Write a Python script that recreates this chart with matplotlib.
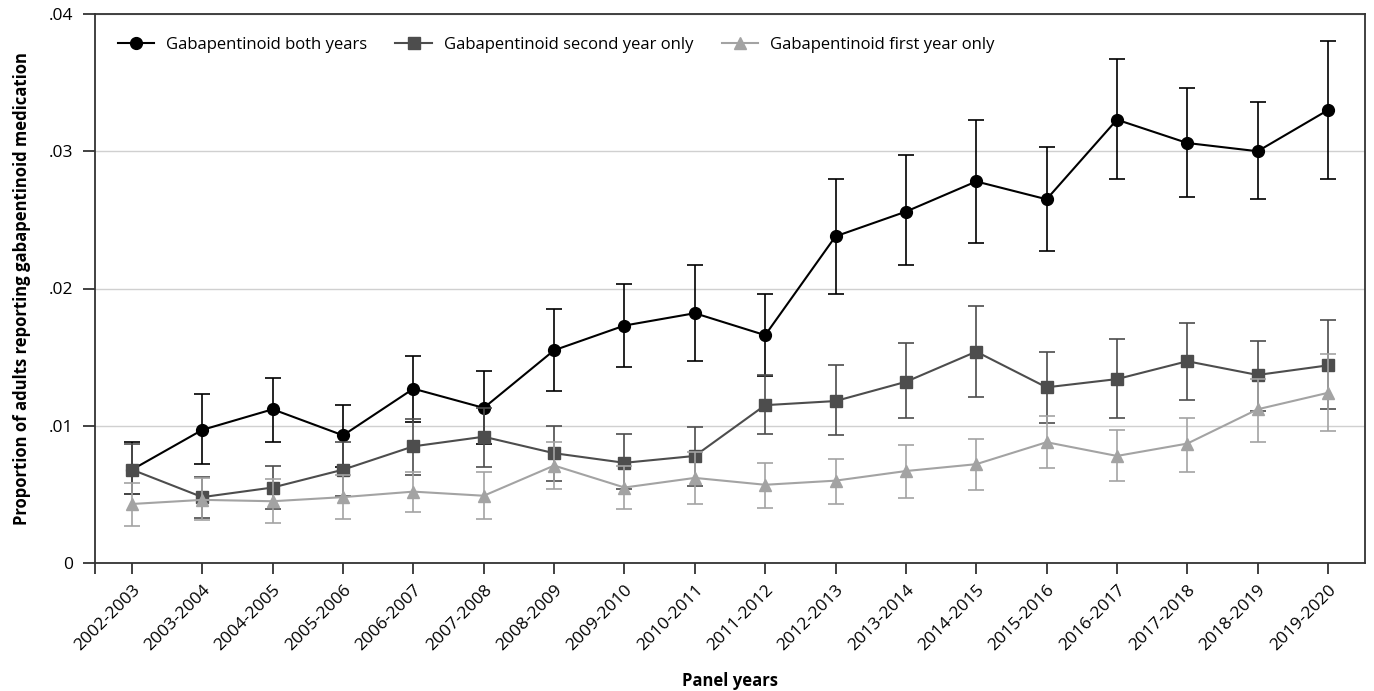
import matplotlib
matplotlib.use("Agg")
from matplotlib import pyplot as plt
from matplotlib.ticker import FixedLocator
import numpy as np

plt.rcParams['font.family'] = ['Open Sans', 'DejaVu Sans']

years = ['2002-2003', '2003-2004', '2004-2005', '2005-2006', '2006-2007', '2007-2008',
         '2008-2009', '2009-2010', '2010-2011', '2011-2012', '2012-2013', '2013-2014',
         '2014-2015', '2015-2016', '2016-2017', '2017-2018', '2018-2019', '2019-2020']

# Gabapentinoid both years
both = [0.0068, 0.0097, 0.0112, 0.0093, 0.0127, 0.0113, 0.0155, 0.0173, 0.0182,
        0.0166, 0.0238, 0.0256, 0.0278, 0.0265, 0.0323, 0.0306, 0.0300, 0.0330]
both_lo = [0.0050, 0.0072, 0.0088, 0.0070, 0.0103, 0.0087, 0.0125, 0.0143, 0.0147,
           0.0136, 0.0196, 0.0217, 0.0233, 0.0227, 0.0280, 0.0267, 0.0265, 0.0280]
both_hi = [0.0088, 0.0123, 0.0135, 0.0115, 0.0151, 0.0140, 0.0185, 0.0203, 0.0217,
           0.0196, 0.0280, 0.0297, 0.0323, 0.0303, 0.0367, 0.0346, 0.0336, 0.0380]

# Gabapentinoid second year only
second = [0.0068, 0.0048, 0.0055, 0.0068, 0.0085, 0.0092, 0.0080, 0.0073, 0.0078,
          0.0115, 0.0118, 0.0132, 0.0154, 0.0128, 0.0134, 0.0147, 0.0137, 0.0144]
second_lo = [0.0050, 0.0033, 0.0039, 0.0049, 0.0064, 0.0070, 0.0060, 0.0054, 0.0056,
             0.0094, 0.0093, 0.0106, 0.0121, 0.0102, 0.0106, 0.0119, 0.0111, 0.0112]
second_hi = [0.0087, 0.0063, 0.0071, 0.0088, 0.0105, 0.0113, 0.0100, 0.0094, 0.0099,
             0.0137, 0.0144, 0.0160, 0.0187, 0.0154, 0.0163, 0.0175, 0.0162, 0.0177]

# Gabapentinoid first year only
first = [0.0043, 0.0046, 0.0045, 0.0048, 0.0052, 0.0049, 0.0071, 0.0055, 0.0062,
         0.0057, 0.0060, 0.0067, 0.0072, 0.0088, 0.0078, 0.0087, 0.0112, 0.0124]
first_lo = [0.0027, 0.0031, 0.0029, 0.0032, 0.0037, 0.0032, 0.0054, 0.0039, 0.0043,
            0.0040, 0.0043, 0.0047, 0.0053, 0.0069, 0.0060, 0.0066, 0.0088, 0.0096]
first_hi = [0.0058, 0.0062, 0.0061, 0.0064, 0.0066, 0.0066, 0.0088, 0.0071, 0.0081,
            0.0073, 0.0076, 0.0086, 0.0090, 0.0107, 0.0097, 0.0106, 0.0134, 0.0152]

yticks = [0, 0.01, 0.02, 0.03, 0.04]
ytick_labels = ['0', '.01', '.02', '.03', '.04']

fig = plt.figure(figsize=(13.74, 6.91), dpi=100)
ax = fig.add_axes([95/1374, 1-563/691, 1270/1374, 549/691])

x = np.arange(len(years))
series = [
    (both, both_lo, both_hi, '#000000', 'o', 8.5, 'Gabapentinoid both years'),
    (second, second_lo, second_hi, '#4d4d4d', 's', 8.0, 'Gabapentinoid second year only'),
    (first, first_lo, first_hi, '#a3a3a3', '^', 9.0, 'Gabapentinoid first year only'),
]
for z, (v, lo, hi, col, mk, ms, lab) in enumerate(series):
    v = np.array(v); lo = np.array(lo); hi = np.array(hi)
    ax.errorbar(x, v, yerr=[v - lo, hi - v], fmt='none', ecolor=col, elinewidth=1.2,
                capsize=5.8, capthick=1.2, zorder=3 + 2*z)
    ax.plot(x, v, color=col, marker=mk, markersize=ms, linewidth=1.5, label=lab,
            zorder=4 + 2*z)

ax.set_xlim(-0.526, 17.526)
ax.set_ylim(0, 0.04)
ax.set_xticks(x)
ax.set_xticklabels(years, rotation=45, ha='right', va='top', rotation_mode='anchor',
                   fontsize=12.5)
ax.xaxis.set_minor_locator(FixedLocator([-0.526]))
ax.set_yticks(yticks)
ax.set_yticklabels(ytick_labels, fontsize=12.5)

ax.yaxis.grid(True, color='#d0d0d0', linewidth=1.0)
ax.set_axisbelow(True)
for s in ax.spines.values():
    s.set_color('#333333')
    s.set_linewidth(1.3)
ax.tick_params(axis='y', length=8.6, width=1.3, color='#333333', pad=7)
ax.tick_params(axis='x', which='both', length=7.7, width=1.3, color='#333333', pad=6)

ax.set_xlabel('Panel years', fontsize=12, fontweight='bold', labelpad=13)
ax.set_ylabel('Proportion of adults reporting gabapentinoid medication', fontsize=12,
              fontweight='bold', labelpad=13)

ax.legend(loc='upper left', bbox_to_anchor=(0.006, 0.985), ncol=3, frameon=False,
          fontsize=12, handlelength=2.2, handletextpad=0.7, columnspacing=1.7)

plt.savefig('out.png', dpi=100)
